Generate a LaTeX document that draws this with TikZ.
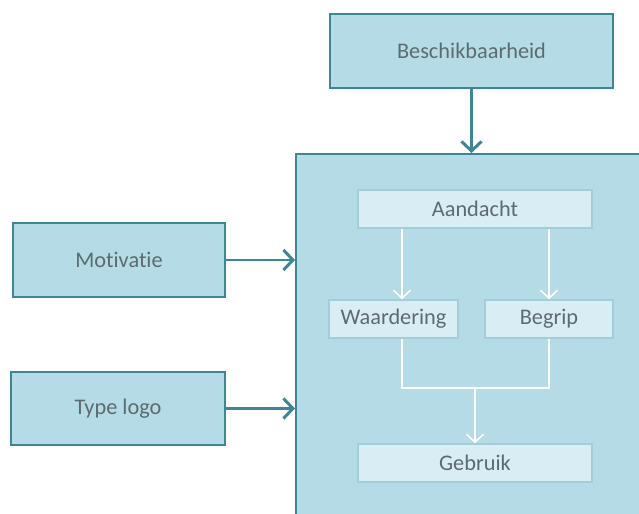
\documentclass[tikz,border=0pt]{standalone}
\usepackage{fontspec}
\setmainfont{Carlito}[Ligatures=NoCommon]
\usepackage{xcolor}
\usetikzlibrary{arrows.meta,positioning}

\definecolor{tealdark}{HTML}{3E8696}
\definecolor{boxfill}{HTML}{B5DCE6}
\definecolor{innerfill}{HTML}{D9EEF4}
\definecolor{innerline}{HTML}{A3CDD8}
\definecolor{textgray}{HTML}{5C6B70}

\begin{document}
\begin{tikzpicture}[
    factor/.style={rectangle, draw=tealdark, line width=1.1pt, fill=boxfill, minimum width=4.24cm, minimum height=1.48cm, align=center, text=textgray, font=\fontsize{12.7}{15}\selectfont},
    stage/.style={rectangle, draw=innerline, line width=0.8pt, fill=innerfill, minimum height=0.76cm, align=center, text=textgray, font=\fontsize{12.7}{15}\selectfont},
    arrow/.style={-{Straight Barb[length=1.9mm, width=4mm]}, draw=tealdark, line width=1.7pt},
    inarrow/.style={-{Straight Barb[length=1.6mm, width=3.4mm]}, draw=white, line width=0.9pt},
    inline/.style={draw=white, line width=0.9pt}
]
    \clip (0,0) rectangle (12.78,-10.28);
    \fill[white] (0,0) rectangle (12.78,-10.28);

    % Outer box
    \node[rectangle, draw=tealdark, line width=1.1pt, fill=boxfill, minimum width=7.3cm, minimum height=7.6cm, anchor=north west] (model) at (5.9,-3.06) {};

    % Outside factors
    \node[factor, minimum width=5.66cm] (besch) at (9.43,-1.02) {Beschikbaarheid};
    \node[factor] (motiv) at (2.38,-5.2) {Motivatie};
    \node[factor, minimum width=4.28cm, minimum height=1.46cm] (type) at (2.36,-8.17) {Type logo};

    % Stages inside
    \node[stage, minimum width=4.68cm] (aandacht) at (9.5,-4.18) {Aandacht};
    \node[stage, minimum width=2.58cm] (waard) at (7.87,-6.38) {Waardering};
    \node[stage, minimum width=2.56cm] (begrip) at (10.98,-6.38) {Begrip};
    \node[stage, minimum width=4.68cm] (gebruik) at (9.5,-9.26) {Gebruik};
    \coordinate (join) at (9.5,-7.76);

    % Arrows into the model
    \draw[arrow] (besch) -- (besch.south |- model.north);
    \draw[arrow] (motiv) -- (motiv.east -| model.west);
    \draw[arrow] (type) -- (type.east -| model.west);

    % Arrows inside
    \draw[inarrow] ([xshift=1.7mm]waard.north |- aandacht.south) -- ([xshift=1.7mm]waard.north);
    \draw[inarrow] (begrip.north |- aandacht.south) -- (begrip.north);
    \draw[inline] ([xshift=1.7mm]waard.south) |- (join) -| (begrip.south);
    \draw[inarrow] (join) -- (gebruik);

\end{tikzpicture}
\end{document}
